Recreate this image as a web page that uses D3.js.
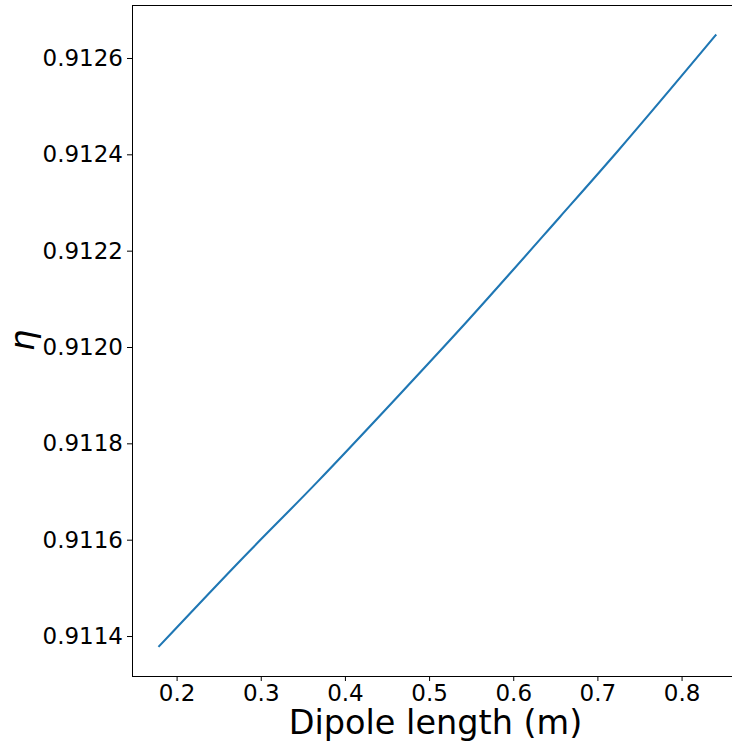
<!DOCTYPE html>
<html>
<head>
<meta charset="utf-8">
<script src="https://cdn.jsdelivr.net/npm/d3@7"></script>
<style>
  body { margin: 0; background: #fff; }
  text { font-family: 'DejaVu Sans', sans-serif; fill: #000; }
</style>
</head>
<body>
<svg id="chart" width="732" height="744"></svg>
<script>
// dipole length (m) vs efficiency
const dipoleLength = [0.1793, 0.2764, 0.3667, 0.4653, 0.5461, 0.6554, 0.7243, 0.8404]
const eta = [0.911379, 0.911558, 0.911719, 0.911902, 0.912055, 0.91227, 0.912407, 0.912647]

const xTicks = [0.2, 0.3, 0.4, 0.5, 0.6, 0.7, 0.8]
const yTicks = [0.9114, 0.9116, 0.9118, 0.912, 0.9122, 0.9124, 0.9126]

const margin = { top: 5, left: 132 }
const plotW = 611
const plotH = 671

const svg = d3.select('#chart')

const x = d3.scaleLinear().domain([0.147, 0.873]).range([margin.left, margin.left + plotW])
const y = d3.scaleLinear().domain([0.911317, 0.91271]).range([margin.top + plotH, margin.top])

const points = dipoleLength.map((d, i) => ({ x: d, y: eta[i] }))

svg.append('path')
  .datum(points)
  .attr('fill', 'none')
  .attr('stroke', '#1f77b4')
  .attr('stroke-width', 2.1)
  .attr('stroke-linecap', 'square')
  .attr('d', d3.line().x(d => x(d.x)).y(d => y(d.y)).curve(d3.curveMonotoneX))

const xAxis = svg.append('g')
  .attr('transform', `translate(0,${margin.top + plotH})`)
  .call(d3.axisBottom(x).tickValues(xTicks).tickSize(5).tickPadding(4).tickFormat(d3.format('.1f')))
const yAxis = svg.append('g')
  .attr('transform', `translate(${margin.left},0)`)
  .call(d3.axisLeft(y).tickValues(yTicks).tickSize(5).tickPadding(4).tickFormat(d3.format('.4f')))

for (const g of [xAxis, yAxis]) {
  g.selectAll('text').style('font-size', '23px').style('font-family', "'DejaVu Sans', sans-serif")
  g.selectAll('.tick line').attr('stroke', '#000').attr('stroke-width', 1)
  g.select('.domain').remove()
}
xAxis.selectAll('text').attr('dy', '0.68em')

// spines
svg.append('rect')
  .attr('x', margin.left + 0.5)
  .attr('y', margin.top + 0.5)
  .attr('width', plotW)
  .attr('height', plotH)
  .attr('fill', 'none')
  .attr('stroke', '#000')
  .attr('stroke-width', 1)

svg.append('text')
  .attr('x', margin.left + plotW / 2 - 2)
  .attr('y', 734)
  .attr('text-anchor', 'middle')
  .style('font-size', '33.5px')
  .text('Dipole length (m)')

svg.append('text')
  .attr('transform', `translate(34,${margin.top + plotH / 2}) rotate(-90)`)
  .attr('text-anchor', 'middle')
  .style('font-size', '34px')
  .style('font-style', 'italic')
  .text('η')
</script>
</body>
</html>
